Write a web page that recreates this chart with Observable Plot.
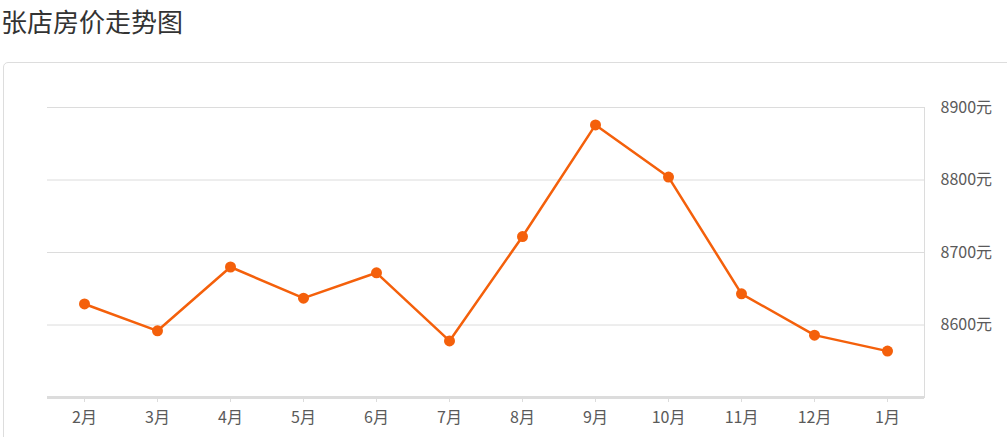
<!DOCTYPE html>
<html>
<head>
<meta charset="utf-8">
<script src="https://cdn.jsdelivr.net/npm/d3@7"></script>
<script src="https://cdn.jsdelivr.net/npm/@observablehq/plot@0.6"></script>
<style>
  html, body { margin: 0; padding: 0; background: #fff; overflow: hidden; }
  body { width: 1007px; height: 437px; position: relative; font-family: "Microsoft YaHei", "Noto Sans CJK SC", "Noto Sans", sans-serif; }
  #title { position: absolute; left: 1px; top: 4px; font-size: 26px; color: #333; line-height: 34px; }
  #box { position: absolute; left: 3px; top: 62px; width: 1020px; height: 400px; border: 1px solid #ddd; border-radius: 5px; box-sizing: border-box; }
  #chart { position: absolute; left: 0; top: 62px; }
</style>
</head>
<body>
<div id="title">张店房价走势图</div>
<div id="box"></div>
<div id="chart"></div>
<script>
const months = ["2月","3月","4月","5月","6月","7月","8月","9月","10月","11月","12月","1月"];
const prices = [8629, 8592, 8680, 8637, 8672, 8578, 8722, 8876, 8804, 8643, 8586, 8564];
const yTicks = [8600, 8700, 8800, 8900];
const data = months.map((m, i) => ({month: m, price: prices[i]}));

const chart = Plot.plot({
  width: 1007,
  height: 375,
  marginLeft: 47,
  marginRight: 83,
  marginTop: 45,
  marginBottom: 40,
  style: {fontFamily: '"Microsoft YaHei", "Noto Sans CJK SC", sans-serif', fontSize: "16px", background: "transparent"},
  x: {type: "point", domain: months, padding: 0.5},
  y: {domain: [8500, 8900]},
  marks: [
    Plot.gridY(yTicks, {stroke: "#dcdcdc", strokeOpacity: 1}),
    Plot.frame({anchor: "right", stroke: "#dcdcdc"}),
    Plot.ruleY([8500], {stroke: "#dcdcdc", strokeWidth: 3}),
    Plot.axisX({tickSize: 5, stroke: "#dcdcdc", tickPadding: 9, fill: "#5a5a5a", fontSize: 16, label: null}),
    Plot.axisY(yTicks, {anchor: "right", tickSize: 0, tickPadding: 16, textAnchor: "start", fill: "#5a5a5a", fontSize: 16, tickFormat: d => d + "元", label: null}),
    Plot.line(data, {x: "month", y: "price", stroke: "#f4600b", strokeWidth: 2.5}),
    Plot.dot(data, {x: "month", y: "price", r: 5.5, fill: "#f4600b", stroke: "none"})
  ]
});
document.getElementById("chart").appendChild(chart);
</script>
</body>
</html>
